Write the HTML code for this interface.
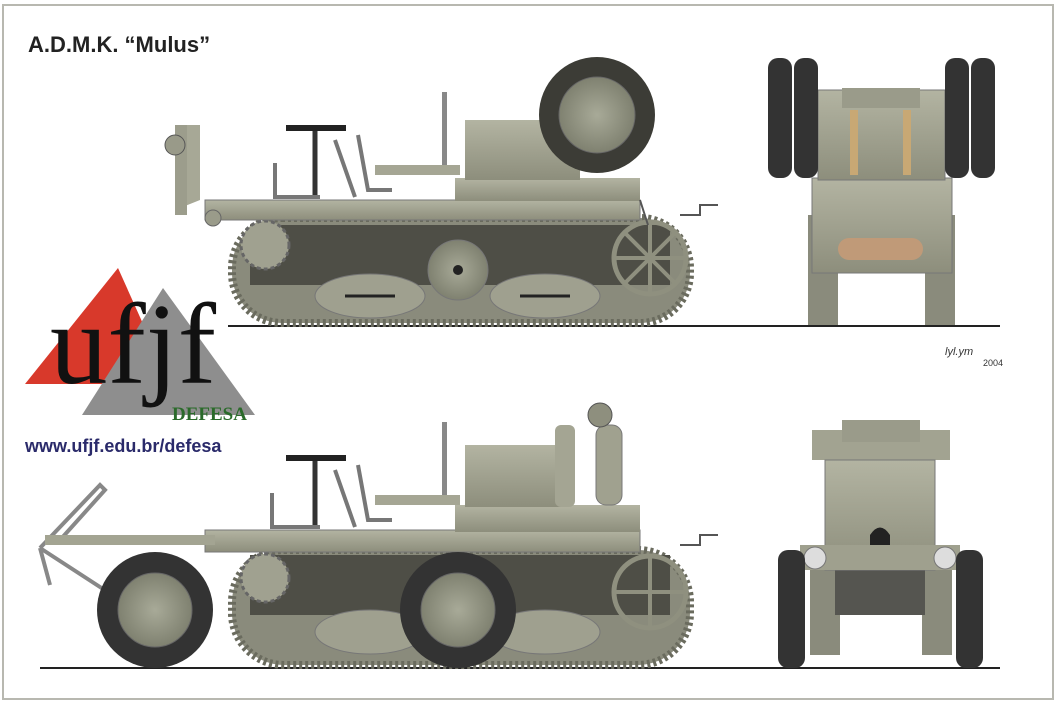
<!DOCTYPE html>
<html><head><meta charset="utf-8"><style>
html,body{margin:0;padding:0;background:#fff}
svg{display:block}
</style></head><body>
<svg width="1058" height="706" viewBox="0 0 1058 706" xmlns="http://www.w3.org/2000/svg" font-family="Liberation Sans, sans-serif">
<defs>
<linearGradient id="bod" x1="0" y1="0" x2="0" y2="1"><stop offset="0" stop-color="#b3b4a2"/><stop offset="1" stop-color="#8d8e7c"/></linearGradient>
<radialGradient id="hub"><stop offset="0" stop-color="#a8aa98"/><stop offset="1" stop-color="#7f8170"/></radialGradient>
</defs>
<rect x="3" y="5" width="1050" height="694" fill="#fff" stroke="#b8b8b0" stroke-width="2"/>
<text x="28" y="52" font-size="22" font-weight="bold" fill="#222">A.D.M.K. “Mulus”</text>

<!-- TOP SIDE VIEW -->
<line x1="228" y1="326" x2="1000" y2="326" stroke="#222" stroke-width="2"/>
<rect x="232" y="218" width="458" height="105" rx="50" fill="#8a8b7c" stroke="#6a6b5e" stroke-width="8" stroke-dasharray="3 3"/>
<rect x="250" y="225" width="420" height="60" fill="#4e4e46"/>
<circle cx="265" cy="245" r="24" fill="#a0a190" stroke="#666" stroke-width="3" stroke-dasharray="4 3"/>
<circle cx="650" cy="258" r="36" fill="none" stroke="#8f907f" stroke-width="5"/>
<g stroke="#8f907f" stroke-width="4"><line x1="614" y1="258" x2="686" y2="258"/><line x1="650" y1="222" x2="650" y2="294"/><line x1="625" y1="233" x2="675" y2="283"/><line x1="675" y1="233" x2="625" y2="283"/></g>
<ellipse cx="370" cy="296" rx="55" ry="22" fill="#9fa08f" stroke="#777" />
<ellipse cx="545" cy="296" rx="55" ry="22" fill="#9fa08f" stroke="#777"/>
<circle cx="458" cy="270" r="30" fill="url(#hub)" stroke="#777"/>
<circle cx="458" cy="270" r="5" fill="#222"/>
<g stroke="#222" stroke-width="3"><line x1="345" y1="296" x2="395" y2="296"/><line x1="520" y1="296" x2="570" y2="296"/></g>
<rect x="205" y="200" width="435" height="20" fill="url(#bod)" stroke="#777"/>
<circle cx="213" cy="218" r="8" fill="#9a9b8a" stroke="#666"/>
<path d="M175 125 L200 125 L200 200 L175 210 Z" fill="#a7a896"/>
<rect x="175" y="125" width="12" height="90" fill="#9c9d8c"/>
<circle cx="175" cy="145" r="10" fill="#999a89" stroke="#555"/>
<rect x="455" y="178" width="185" height="23" fill="url(#bod)"/>
<rect x="465" y="120" width="115" height="60" fill="url(#bod)"/>
<circle cx="597" cy="115" r="58" fill="#3c3c36"/>
<circle cx="597" cy="115" r="38" fill="url(#hub)" stroke="#666"/>
<rect x="442" y="92" width="5" height="75" fill="#888"/>
<rect x="375" y="165" width="85" height="10" fill="#a5a694"/>
<line x1="315" y1="130" x2="315" y2="198" stroke="#333" stroke-width="5"/>
<rect x="286" y="125" width="60" height="6" fill="#222"/>
<path d="M275 163 L275 197 L320 197" fill="none" stroke="#777" stroke-width="4"/>
<path d="M335 140 L355 197 M358 135 L368 190 L392 190" fill="none" stroke="#777" stroke-width="4"/>
<path d="M640 200 L648 225 M680 215 L700 215 L700 205 L718 205" fill="none" stroke="#555" stroke-width="2"/>

<!-- TOP FRONT VIEW -->
<rect x="808" y="215" width="30" height="110" fill="#8a8b7c"/>
<rect x="925" y="215" width="30" height="110" fill="#8a8b7c"/>
<rect x="812" y="178" width="140" height="95" fill="url(#bod)" stroke="#777"/>
<rect x="838" y="238" width="85" height="22" rx="11" fill="#c09a78"/>
<rect x="818" y="90" width="127" height="90" fill="url(#bod)" stroke="#777"/>
<rect x="842" y="88" width="78" height="20" fill="#9a9b8a"/>
<rect x="850" y="110" width="8" height="65" fill="#c8a874"/><rect x="903" y="110" width="8" height="65" fill="#c8a874"/>
<rect x="768" y="58" width="24" height="120" rx="10" fill="#333"/>
<rect x="794" y="58" width="24" height="120" rx="10" fill="#333"/>
<rect x="945" y="58" width="24" height="120" rx="10" fill="#333"/>
<rect x="971" y="58" width="24" height="120" rx="10" fill="#333"/>

<!-- signature -->
<text x="945" y="355" font-size="11" font-style="italic" fill="#333">lyl.ym</text>
<text x="983" y="366" font-size="9" fill="#333">2004</text>

<!-- LOGO -->
<polygon points="25,384 118,268 170,384" fill="#d8392b"/>
<polygon points="82,415 163,288 255,415" fill="#8e8e8e"/>
<text x="50" y="383" font-family="Liberation Serif, serif" font-size="115" fill="#111">ufjf</text>
<text x="172" y="420" font-family="Liberation Serif, serif" font-size="19" font-weight="bold" fill="#2a6a2a">DEFESA</text>
<text x="25" y="452" font-size="18" font-weight="bold" fill="#2a2a6a">www.ufjf.edu.br/defesa</text>

<!-- BOTTOM SIDE VIEW -->
<line x1="40" y1="668" x2="1000" y2="668" stroke="#222" stroke-width="2"/>
<rect x="232" y="550" width="458" height="115" rx="52" fill="#8a8b7c" stroke="#6a6b5e" stroke-width="8" stroke-dasharray="3 3"/>
<rect x="250" y="555" width="420" height="60" fill="#4e4e46"/>
<circle cx="265" cy="578" r="24" fill="#a0a190" stroke="#666" stroke-width="3" stroke-dasharray="4 3"/>
<circle cx="650" cy="592" r="36" fill="none" stroke="#8f907f" stroke-width="5"/>
<g stroke="#8f907f" stroke-width="4"><line x1="614" y1="592" x2="686" y2="592"/><line x1="650" y1="556" x2="650" y2="628"/></g>
<ellipse cx="370" cy="632" rx="55" ry="22" fill="#9fa08f" stroke="#777"/>
<ellipse cx="545" cy="632" rx="55" ry="22" fill="#9fa08f" stroke="#777"/>
<rect x="205" y="530" width="435" height="22" fill="url(#bod)" stroke="#777"/>
<path d="M40 548 L100 485 L105 490 L60 540 L210 540 M50 585 L40 548 M40 548 L120 600" fill="none" stroke="#888" stroke-width="4"/>
<rect x="45" y="535" width="170" height="10" fill="#a3a492"/>
<circle cx="155" cy="610" r="58" fill="#333"/>
<circle cx="155" cy="610" r="37" fill="url(#hub)" stroke="#666"/>
<circle cx="458" cy="610" r="58" fill="#333"/>
<circle cx="458" cy="610" r="37" fill="url(#hub)" stroke="#666"/>
<rect x="455" y="505" width="185" height="27" fill="url(#bod)"/>
<rect x="465" y="445" width="100" height="62" fill="url(#bod)"/>
<rect x="555" y="425" width="20" height="82" rx="6" fill="#a4a593"/>
<rect x="596" y="425" width="26" height="80" rx="10" fill="#a0a18f" stroke="#777"/>
<circle cx="600" cy="415" r="12" fill="#8e8f7e" stroke="#555"/>
<rect x="442" y="422" width="5" height="80" fill="#888"/>
<rect x="375" y="495" width="85" height="10" fill="#a5a694"/>
<line x1="315" y1="460" x2="315" y2="528" stroke="#333" stroke-width="5"/>
<rect x="286" y="455" width="60" height="6" fill="#222"/>
<path d="M272 493 L272 527 L320 527" fill="none" stroke="#777" stroke-width="4"/>
<path d="M335 470 L355 527 M358 465 L368 520 L392 520" fill="none" stroke="#777" stroke-width="4"/>
<path d="M680 545 L700 545 L700 535 L718 535" fill="none" stroke="#555" stroke-width="2"/>

<!-- BOTTOM FRONT VIEW -->
<rect x="810" y="570" width="30" height="85" fill="#8a8b7c"/>
<rect x="922" y="570" width="30" height="85" fill="#8a8b7c"/>
<rect x="835" y="565" width="90" height="50" fill="#555550"/>
<rect x="812" y="430" width="138" height="30" fill="#a2a391"/>
<rect x="842" y="420" width="78" height="22" fill="#9a9b8a"/>
<rect x="825" y="460" width="110" height="110" fill="url(#bod)" stroke="#777"/>
<path d="M870 550 L870 535 Q880 520 890 535 L890 550 Z" fill="#222"/>
<rect x="800" y="545" width="160" height="25" fill="#9fa08e"/>
<circle cx="815" cy="558" r="11" fill="#ddd" stroke="#777"/>
<circle cx="945" cy="558" r="11" fill="#ddd" stroke="#777"/>
<rect x="778" y="550" width="27" height="118" rx="10" fill="#333"/>
<rect x="956" y="550" width="27" height="118" rx="10" fill="#333"/>
</svg>
</body></html>
